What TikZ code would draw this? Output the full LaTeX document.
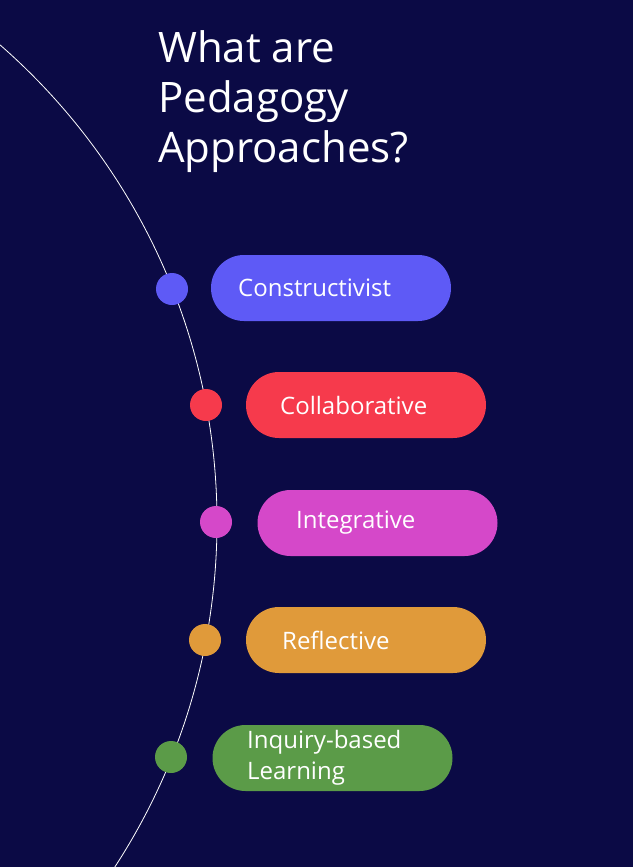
\documentclass[tikz,border=0pt]{standalone}
\usepackage{fontspec}
\setmainfont{Open Sans}
\definecolor{bg}{HTML}{0B0A45}
\definecolor{cblue}{HTML}{5E5AF6}
\definecolor{cred}{HTML}{F63A4C}
\definecolor{cmag}{HTML}{D548C9}
\definecolor{corange}{HTML}{E09A3A}
\definecolor{cgreen}{HTML}{5B9B48}
\begin{document}
\begin{tikzpicture}[x=1pt,y=-1pt,
  pill/.style={fill=#1,rounded corners=33pt,minimum width=240pt,minimum height=66pt,inner sep=0pt},
  dot/.style={circle,fill=#1,minimum size=32pt,inner sep=0pt},
  lbl/.style={text=white,font=\fontsize{24}{31}\selectfont,anchor=west,align=left,inner sep=0pt}]
\fill[bg] (0,0) rectangle (633,867);
\useasboundingbox (0,0) rectangle (633,867);
\begin{scope}
\clip (0,0) rectangle (633,867);
\draw[white,line width=0.8pt] (-416,522) circle (633);
\end{scope}
\node[text=white,anchor=north west,align=left,inner sep=0pt,font=\fontsize{42}{50}\selectfont] (title) at (158,30) {What are\\Pedagogy\\Approaches?};
\node[pill=cblue] (p1) at (331,288) {};
\node[pill=cred] (p2) at (366,405) {};
\node[pill=cmag] (p3) at (377.5,523) {};
\node[pill=corange] (p4) at (366,640) {};
\node[pill=cgreen] (p5) at (332.5,758) {};
\node[dot=cblue] (d1) at (172,289) {};
\node[dot=cred] (d2) at (206,405) {};
\node[dot=cmag] (d3) at (216,522) {};
\node[dot=corange] (d4) at (205,640) {};
\node[dot=cgreen] (d5) at (171,757) {};
\node[lbl] (t1) at (238,288) {Constructivist};
\node[lbl] (t2) at (280,405) {Collaborative};
\node[lbl] (t3) at (296,523) {Integrative};
\node[lbl] (t4) at (282,640) {Reflective};
\node[lbl] (t5) at (247,758) {Inquiry-based\\Learning};
\end{tikzpicture}
\end{document}
